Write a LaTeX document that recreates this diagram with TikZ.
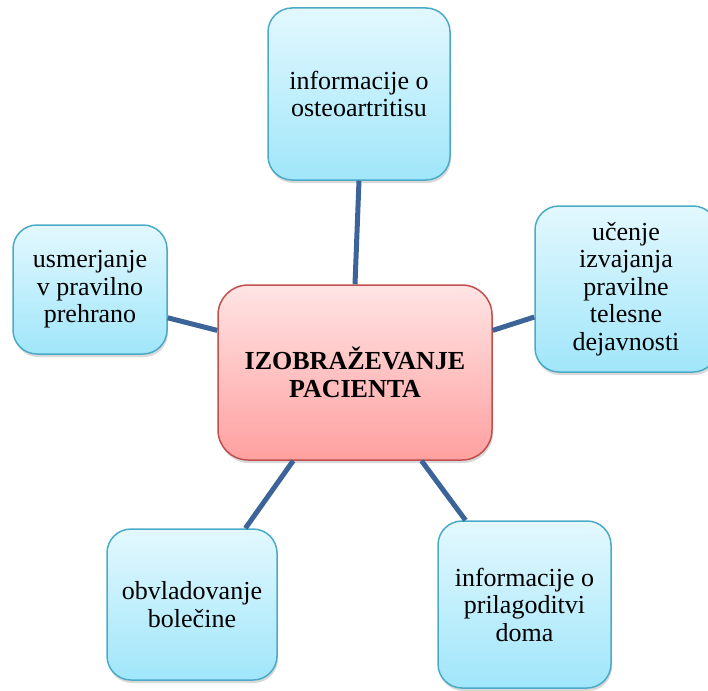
\documentclass[tikz,border=0pt]{standalone}
\usepackage{fontspec}
\setmainfont{Liberation Serif}
\usepackage{xcolor}
\usepackage{tikz}
\usetikzlibrary{shadows}
\usetikzlibrary{calc}
\usetikzlibrary{positioning}

\definecolor{modratop}{RGB}{227,248,254}
\definecolor{modrabot}{RGB}{160,230,250}
\definecolor{modrarob}{RGB}{75,170,198}
\definecolor{rdecatop}{RGB}{255,228,228}
\definecolor{rdecabot}{RGB}{255,160,160}
\definecolor{rdecarob}{RGB}{192,80,77}
\definecolor{crta}{RGB}{60,100,152}

\begin{document}
\begin{tikzpicture}[x=1pt,y=-1pt,-,semithick]
						\tikzstyle{vert}=[draw=modrarob, line width=1.5pt, rounded corners=24pt, top color=modratop, bottom color=modrabot, drop shadow={opacity=.3, shadow xshift=1pt, shadow yshift=-3pt}, align=center, inner sep=0pt, font=\fontsize{26}{27.5}\selectfont]
						\tikzstyle{sred}=[vert, draw=rdecarob, rounded corners=30pt, top color=rdecatop, bottom color=rdecabot, font=\fontsize{26}{27.5}\selectfont\bfseries]
						\tikzstyle{pov}=[draw=crta, line width=5pt]
						\useasboundingbox (0,0) rectangle (708,690);
						\node[sred, minimum width=274pt, minimum height=175pt] (pac) at (355,372.5) {IZOBRAŽEVANJE\\PACIENTA};
						\node[vert, minimum width=182pt, minimum height=172pt] (info) at (359,94) {informacije o\\osteoartritisu};
						\node[vert, minimum width=154pt, minimum height=129pt] (preh) at (90,289.5) {usmerjanje\\v pravilno\\prehrano};
						\node[vert, minimum width=182pt, minimum height=166pt] (ucen) at (626,289) {učenje\\izvajanja\\pravilne\\telesne\\dejavnosti};
						\node[vert, minimum width=170pt, minimum height=151pt] (bol) at (192,604.5) {obvladovanje\\bolečine};
						\node[vert, minimum width=173pt, minimum height=167pt] (dom) at (524.5,604.5) {informacije o\\prilagoditvi\\doma};
 				  \path[pov]
					 (info.south) edge (pac.north)
					 (preh.-20) edge (pac.163)
					 (pac.17) edge (ucen.197)
					 (pac.235) edge (bol.55)
					 (pac.-53) edge (dom.125);
				\end{tikzpicture}
\end{document}
